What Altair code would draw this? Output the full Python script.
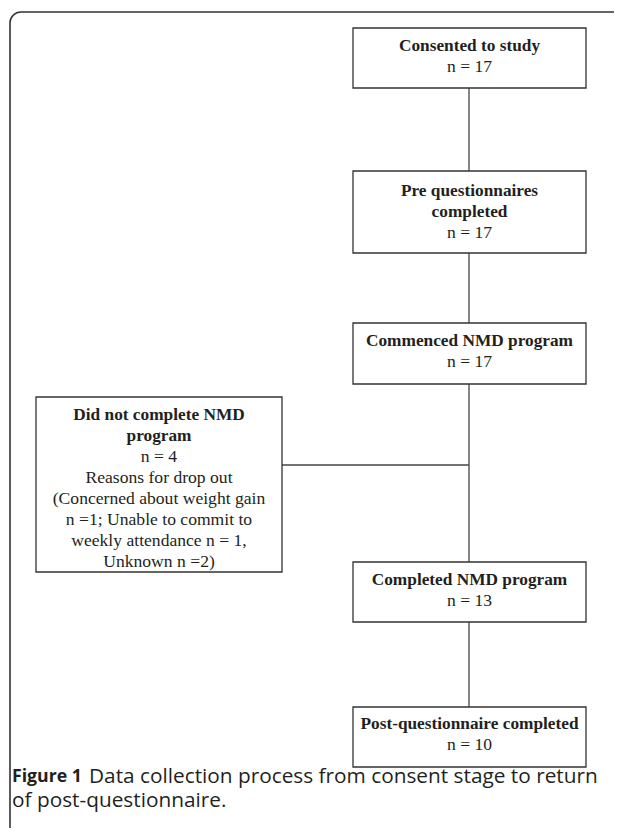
import altair as alt
import pandas as pd

# ---- content ----
stage_titles = [
    ["Consented to study"],
    ["Pre questionnaires", "completed"],
    ["Commenced NMD program"],
    ["Did not complete NMD", "program"],
    ["Completed NMD program"],
    ["Post-questionnaire completed"],
]
stage_counts = [17, 17, 17, 4, 13, 10]
extra_lines = {
    3: ["Reasons for drop out", "(Concerned about weight gain",
        "n =1; Unable to commit to", "weekly attendance n = 1,",
        "Unknown n =2)"],
}
count_fmt = "n = {}"
caption_bold = "Figure 1"
caption_line1 = "Data collection process from consent stage to return"
caption_line2 = "of post-questionnaire."

# ---- layout (pixel coordinates of the page) ----
box_x0 = [353, 353, 353, 36, 353, 353]
box_x1 = [586, 586, 586, 282, 586, 586]
box_y0 = [28, 171, 323, 397, 562, 707]
box_y1 = [88, 253, 384, 572, 622, 767]
line_step = 21
first_line_y = [46, 191, 341, 415, 580, 724]
spine_x = 469
branch_y = 465

boxes = pd.DataFrame({"x": box_x0, "x2": box_x1, "y": box_y0, "y2": box_y1})

rows = []
for i, titles in enumerate(stage_titles):
    cx = (box_x0[i] + box_x1[i]) / 2
    y = first_line_y[i]
    for t in titles:
        rows.append({"x": cx, "y": y, "t": t, "w": "bold"})
        y += line_step
    rows.append({"x": cx, "y": y, "t": count_fmt.format(stage_counts[i]), "w": "normal"})
    y += line_step
    for t in extra_lines.get(i, []):
        rows.append({"x": cx, "y": y, "t": t, "w": "normal"})
        y += line_step
texts = pd.DataFrame(rows)

conn = pd.DataFrame({
    "x": [spine_x, spine_x, spine_x, spine_x, box_x1[3]],
    "x2": [spine_x, spine_x, spine_x, spine_x, spine_x],
    "y": [box_y1[0], box_y1[1], box_y1[2], box_y1[4], branch_y],
    "y2": [box_y0[1], box_y0[2], box_y0[4], box_y0[5], branch_y],
})

frame = pd.DataFrame({"x": [10], "y": [12]})

cap = pd.DataFrame({
    "x": [12, 89, 12],
    "y": [777, 777, 801],
    "t": [caption_bold, caption_line1, caption_line2],
    "w": ["bold", "normal", "normal"],
})

xs = alt.Scale(domain=[8, 614], nice=False, zero=False)
ys = alt.Scale(domain=[8, 828], nice=False, zero=False, reverse=True)
X = lambda f="x": alt.X(f"{f}:Q", scale=xs, axis=None)
Y = lambda f="y": alt.Y(f"{f}:Q", scale=ys, axis=None)

frame_l = alt.Chart(frame).mark_rect(
    fill="white", fillOpacity=0, stroke="#333333", strokeWidth=1.6,
    cornerRadiusTopLeft=11, clip=True
).encode(x=X(), x2=alt.value(720), y=Y(), y2=alt.value(900))

box_l = alt.Chart(boxes).mark_rect(
    fill="white", stroke="#333333", strokeWidth=1.3
).encode(x=X(), x2="x2", y=Y(), y2="y2")

conn_l = alt.Chart(conn).mark_rule(color="#444444", strokeWidth=1.3).encode(
    x=X(), x2="x2", y=Y(), y2="y2")

tb = alt.Chart(texts).transform_filter("datum.w == 'bold'").mark_text(
    font="Liberation Serif", fontSize=17.3, fontWeight="bold", color="#231f20",
    baseline="middle", align="center"
).encode(x=X(), y=Y(), text="t:N")

tn = alt.Chart(texts).transform_filter("datum.w == 'normal'").mark_text(
    font="Liberation Serif", fontSize=17.6, color="#231f20",
    baseline="middle", align="center"
).encode(x=X(), y=Y(), text="t:N")

cb = alt.Chart(cap).transform_filter("datum.w == 'bold'").mark_text(
    font="Open Sans", fontSize=17.7, fontWeight="bold", color="#231f20",
    baseline="middle", align="left"
).encode(x=X(), y=Y(), text="t:N")

cn = alt.Chart(cap).transform_filter("datum.w == 'normal'").mark_text(
    font="Open Sans", fontSize=20.8, color="#231f20",
    baseline="middle", align="left"
).encode(x=X(), y=Y(), text="t:N")

chart = alt.layer(frame_l, conn_l, box_l, tb, tn, cb, cn).properties(
    width=606, height=820, padding=0, autosize=alt.AutoSizeParams(type="none")
).configure_view(stroke=None)

chart.save("out.html", embed_options={"renderer": "svg", "actions": False})
